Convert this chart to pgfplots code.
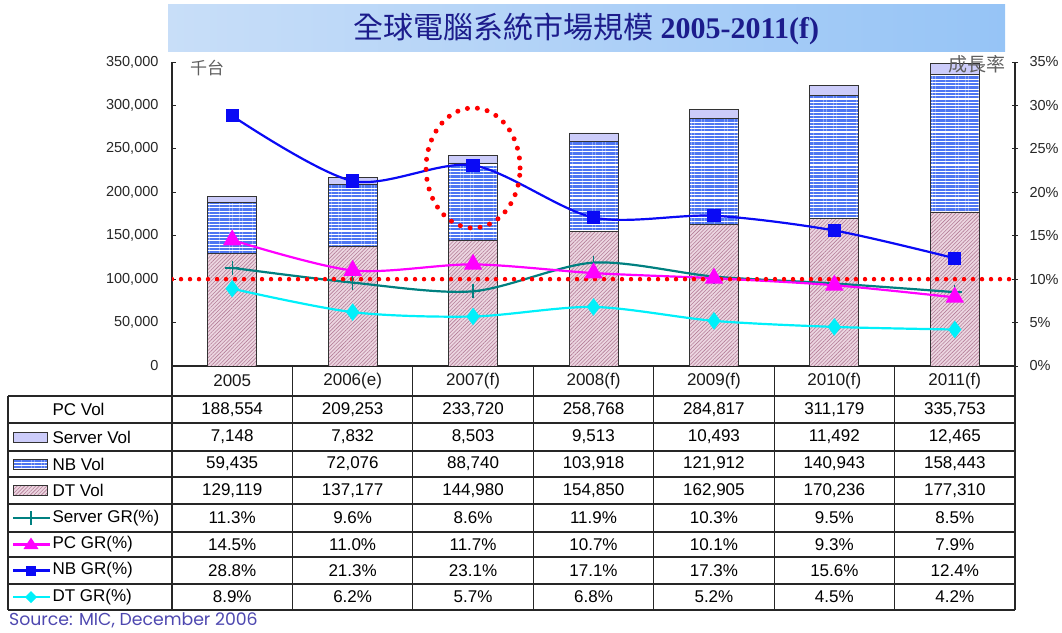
\documentclass[border=0pt]{standalone}
\usepackage{fontspec}
\setmainfont{Liberation Sans}
\newfontfamily\cjk{Noto Sans CJK TC}
\newfontfamily\titleserif{Liberation Serif}
\newfontfamily\srcfont{Poppins}
\usepackage{pgfplots}
\pgfplotsset{compat=1.18}
\usetikzlibrary{patterns.meta}
\pgfkeys{/pgf/number format/assume math mode=true}

\definecolor{srvfill}{RGB}{204,204,250}
\definecolor{nbblue}{RGB}{78,118,242}
\definecolor{dtpink}{RGB}{236,214,225}
\definecolor{dthatch}{RGB}{180,125,152}
\definecolor{tealc}{RGB}{0,128,128}
\definecolor{pcmag}{RGB}{255,0,255}
\definecolor{nbline}{RGB}{10,10,245}
\definecolor{dtcyan}{RGB}{0,240,250}
\definecolor{dotred}{RGB}{255,0,0}
\definecolor{titleblue}{RGB}{28,28,140}
\definecolor{srcblue}{RGB}{78,72,176}
\definecolor{labgray}{RGB}{95,95,95}
\definecolor{bannerL}{RGB}{200,222,248}
\definecolor{bannerR}{RGB}{150,196,246}

\tikzset{
  srvbar/.style={fill=srvfill, draw=black!80, line width=0.9pt},
  nbbar/.style={preaction={fill=white}, pattern={Lines[angle=0,distance=3.3pt,line width=2.2pt]}, pattern color=nbblue, draw=black!80, line width=0.9pt},
  dtbar/.style={preaction={fill=dtpink}, pattern={Lines[angle=45,distance=2.6pt,line width=0.6pt]}, pattern color=dthatch, draw=black!80, line width=0.9pt},
  reddots/.style={dotred, line width=4.5pt, line cap=round, dash pattern=on 0pt off 9pt},
}

\begin{document}
\begin{tikzpicture}
\useasboundingbox (0,0) rectangle (1062pt,632pt);

% title banner
\shade[left color=bannerL, middle color=white, right color=bannerR] (168pt,580pt) rectangle (1005pt,627pt);
\node[text=titleblue, font=\fontsize{30}{30}\selectfont] at (586.5pt,603pt) {\cjk 全球電腦系統市場規模 \titleserif\bfseries 2005-2011(f)};

% volumes (thousand units)
\begin{axis}[
  at={(172pt,266pt)}, anchor=south west, scale only axis,
  width=843pt, height=304pt,
  xmin=-0.5, xmax=6.5, ymin=0, ymax=350000,
  ybar stacked, bar width=49pt,
  axis y line*=left, axis x line*=bottom,
  axis line style={line width=1.1pt, black!85},
  xtick={0,...,6},
  xticklabels={2005,2006(e),2007(f),2008(f),2009(f),2010(f),2011(f)},
  xticklabel style={anchor=center, yshift=-15pt, font=\fontsize{17}{17}\selectfont, text=black!90},
  x tick style={draw=none},
  ytick={0,50000,...,350000}, scaled y ticks=false,
  yticklabel style={/pgf/number format/fixed, /pgf/number format/1000 sep={,}, font=\fontsize{14.5}{14.5}\selectfont, text=black!85, xshift=-10pt},
  tick align=inside, major tick length=4pt,
  y tick style={black!85, line width=0.9pt},
]
\addplot[dtbar] coordinates {(0,129119) (1,137177) (2,144980) (3,154850) (4,162905) (5,170236) (6,177310)};
\addplot[nbbar] coordinates {(0,59435) (1,72076) (2,88740) (3,103918) (4,121912) (5,140943) (6,158443)};
\addplot[srvbar] coordinates {(0,7148) (1,7832) (2,8503) (3,9513) (4,10493) (5,11492) (6,12465)};
\end{axis}

% growth rates (%)
\begin{axis}[
  at={(172pt,266pt)}, anchor=south west, scale only axis,
  width=843pt, height=304pt,
  xmin=-0.5, xmax=6.5, ymin=0, ymax=35,
  axis x line=none, axis y line*=right,
  axis line style={line width=1.1pt, black!85},
  ytick={0,5,...,35},
  yticklabel={\pgfmathprintnumber{\tick}\%},
  yticklabel style={font=\fontsize{14.5}{14.5}\selectfont, text=black!85, xshift=8pt},
  tick align=center, major tick length=6pt,
  y tick style={black!85, line width=0.9pt},
]
\addplot[tealc, line width=2.2pt, smooth, mark=+, mark size=7pt, mark options={line width=1.4pt}]
  coordinates {(0,11.3) (1,9.6) (2,8.6) (3,11.9) (4,10.3) (5,9.5) (6,8.5)};
\addplot[pcmag, line width=2.2pt, smooth, mark=triangle*, mark size=8.5pt]
  coordinates {(0,14.5) (1,11.0) (2,11.7) (3,10.7) (4,10.1) (5,9.3) (6,7.9)};
\addplot[nbline, line width=2.2pt, smooth, mark=square*, mark size=5.5pt]
  coordinates {(0,28.8) (1,21.3) (2,23.1) (3,17.1) (4,17.3) (5,15.6) (6,12.4)};
\addplot[dtcyan, line width=2.2pt, smooth, mark=diamond*, mark size=7pt]
  coordinates {(0,8.9) (1,6.2) (2,5.7) (3,6.8) (4,5.2) (5,4.5) (6,4.2)};
\draw[reddots] (axis cs:-0.5,10) -- (axis cs:6.5,10);
\draw[dotred, line width=5pt, line cap=round, dash pattern=on 0pt off 10pt] (axis cs:2,22.8) ellipse [x radius=47pt, y radius=60pt];
\end{axis}

\begin{scope}[x=1pt, y=1pt]
\node[text=labgray, font=\fontsize{17}{17}\selectfont] at (207,564) {\cjk 千台};
\node[text=labgray, font=\fontsize{19}{19}\selectfont] at (977,568) {\cjk 成長率};

% table grid
\foreach \yy in {236,209,181,155,128,100,75,48,22}
  \draw[line width=1.2pt, black!85] (8,\yy) -- (1015,\yy);
\draw[line width=1.2pt, black!85] (8,236) -- (8,22);
\foreach \k in {0,...,7}
  \draw[line width=1.2pt, black!85] ({172+120.43*\k},266) -- ({172+120.43*\k},22);

% row labels and keys
\begin{scope}[font=\fontsize{17}{17}\selectfont]
\node[anchor=west] at (49,222.5) {PC Vol};
\node[anchor=west] at (49,195) {Server Vol};
\node[anchor=west] at (49,168) {NB Vol};
\node[anchor=west] at (49,141.5) {DT Vol};
\node[anchor=west] at (49,114) {Server GR(\%)};
\node[anchor=west] at (49,87.5) {PC GR(\%)};
\node[anchor=west] at (49,61.5) {NB GR(\%)};
\node[anchor=west] at (49,35) {DT GR(\%)};
\end{scope}
\draw[srvbar] (13,190) rectangle (47,200);
\draw[nbbar] (13,163) rectangle (47,173);
\draw[dtbar] (13,136.5) rectangle (47,146.5);
\draw[tealc, line width=2.2pt] (13,114) -- (50,114);
\draw[tealc, line width=1.4pt] (31,107) -- (31,121);
\draw[pcmag, line width=2.2pt] (13,87.5) -- (50,87.5);
\fill[pcmag] (31,94.5) -- (38.5,83) -- (23.5,83) -- cycle;
\draw[nbline, line width=2.2pt] (13,61.5) -- (50,61.5);
\fill[nbline] (26,56.5) rectangle (36,66.5);
\draw[dtcyan, line width=2.2pt] (13,35) -- (50,35);
\fill[dtcyan] (31,41) -- (37,35) -- (31,29) -- (25,35) -- cycle;

% table values
\begin{scope}[font=\fontsize{17}{17}\selectfont]
\foreach \v [count=\i from 0] in {188554,209253,233720,258768,284817,311179,335753}
  \node at ({232.2+120.43*\i},222.5) {\pgfmathprintnumber[fixed,precision=0,1000 sep={,}]{\v}};
\foreach \v [count=\i from 0] in {7148,7832,8503,9513,10493,11492,12465}
  \node at ({232.2+120.43*\i},195) {\pgfmathprintnumber[fixed,precision=0,1000 sep={,}]{\v}};
\foreach \v [count=\i from 0] in {59435,72076,88740,103918,121912,140943,158443}
  \node at ({232.2+120.43*\i},168) {\pgfmathprintnumber[fixed,precision=0,1000 sep={,}]{\v}};
\foreach \v [count=\i from 0] in {129119,137177,144980,154850,162905,170236,177310}
  \node at ({232.2+120.43*\i},141.5) {\pgfmathprintnumber[fixed,precision=0,1000 sep={,}]{\v}};
\foreach \v [count=\i from 0] in {11.3,9.6,8.6,11.9,10.3,9.5,8.5}
  \node at ({232.2+120.43*\i},114) {\pgfmathprintnumber[fixed,fixed zerofill,precision=1]{\v}\%};
\foreach \v [count=\i from 0] in {14.5,11.0,11.7,10.7,10.1,9.3,7.9}
  \node at ({232.2+120.43*\i},87.5) {\pgfmathprintnumber[fixed,fixed zerofill,precision=1]{\v}\%};
\foreach \v [count=\i from 0] in {28.8,21.3,23.1,17.1,17.3,15.6,12.4}
  \node at ({232.2+120.43*\i},61.5) {\pgfmathprintnumber[fixed,fixed zerofill,precision=1]{\v}\%};
\foreach \v [count=\i from 0] in {8.9,6.2,5.7,6.8,5.2,4.5,4.2}
  \node at ({232.2+120.43*\i},35) {\pgfmathprintnumber[fixed,fixed zerofill,precision=1]{\v}\%};
\end{scope}

\node[anchor=base west, inner sep=0pt, text=srcblue, font=\srcfont\fontsize{17.3}{17.3}\selectfont] at (9,6.5) {Source: MIC, December 2006};
\end{scope}
\end{tikzpicture}
\end{document}
